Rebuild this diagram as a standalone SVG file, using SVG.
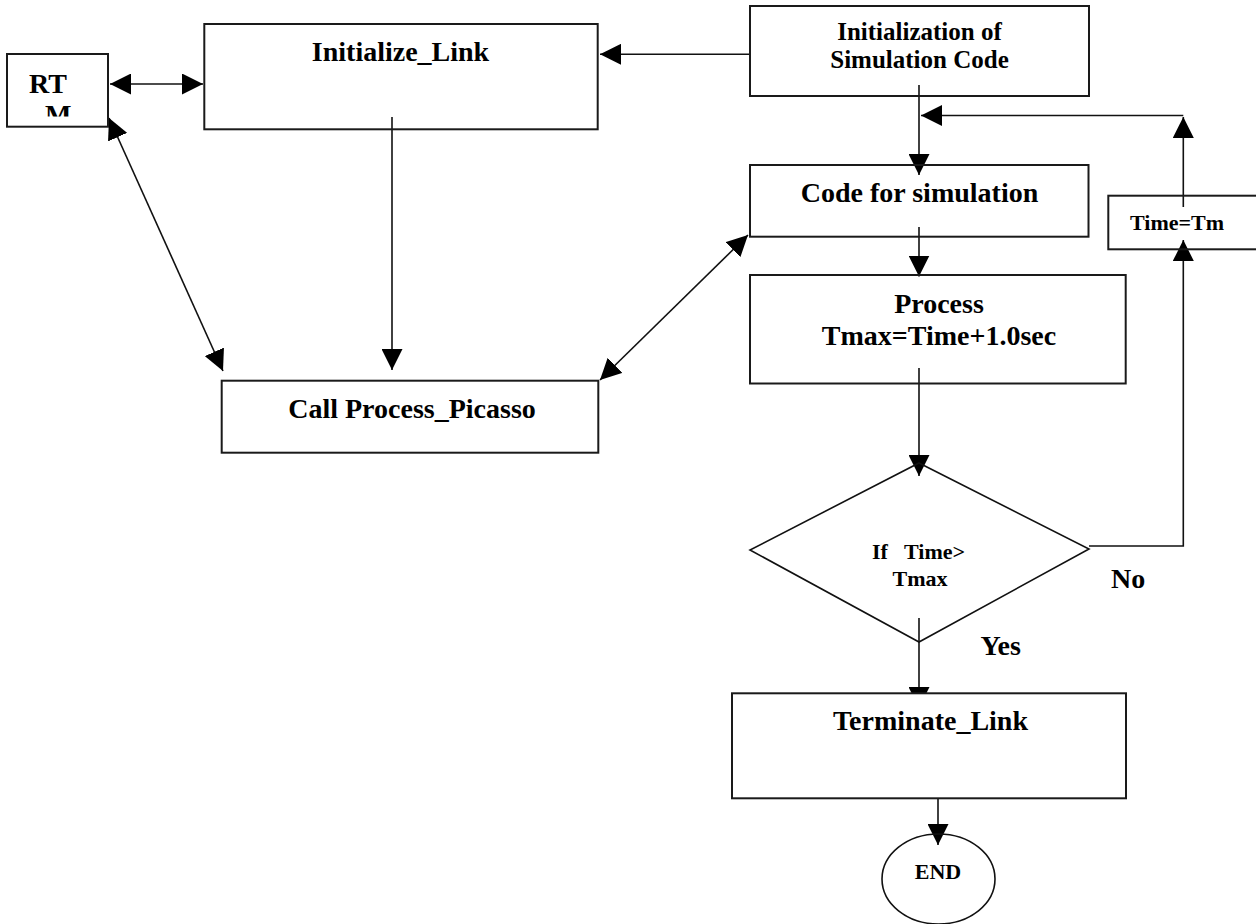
<svg xmlns="http://www.w3.org/2000/svg" width="1256" height="924" viewBox="0 0 1256 924">
  <style>
    .box { fill: none; stroke: #1a1a1a; stroke-width: 2; }
    .shape { fill: none; stroke: #111; stroke-width: 1.6; }
    .line { fill: none; stroke: #111; stroke-width: 1.6; }
    .t { font-family: "Liberation Serif", "Times New Roman", serif; font-weight: bold; fill: #000; }
    .big { font-size: 28px; }
    .tight { font-size: 25px; }
    .small { font-size: 22px; }
    .mid { text-anchor: middle; }
  </style>
  <defs>
    <marker id="ah" viewBox="0 0 21 21" markerWidth="21" markerHeight="21" refX="21" refY="10.5" orient="auto-start-reverse" markerUnits="userSpaceOnUse">
      <path d="M0,0 L21,10.5 L0,21 z" fill="#000"/>
    </marker>
    <clipPath id="rtmClip">
      <rect x="7" y="54" width="101" height="62.5"/>
    </clipPath>
  </defs>

  <rect width="1256" height="924" fill="#fff"/>

  <!-- connectors -->
  <g id="connectors">
    <line class="line" x1="110" y1="84" x2="203" y2="84" marker-start="url(#ah)" marker-end="url(#ah)"/>
    <line class="line" x1="750" y1="54.3" x2="600" y2="54.3" marker-end="url(#ah)"/>
    <line class="line" x1="109" y1="118" x2="223" y2="371" marker-start="url(#ah)" marker-end="url(#ah)"/>
    <line class="line" x1="392" y1="117" x2="392" y2="370" marker-end="url(#ah)"/>
    <line class="line" x1="748" y1="235" x2="600" y2="380" marker-start="url(#ah)" marker-end="url(#ah)"/>
    <line class="line" x1="919" y1="85" x2="919" y2="175" marker-end="url(#ah)"/>
    <line class="line" x1="1183.3" y1="115.5" x2="921" y2="115.5" marker-end="url(#ah)"/>
    <line class="line" x1="1183.3" y1="207" x2="1183.3" y2="117" marker-end="url(#ah)"/>
    <line class="line" x1="919" y1="227" x2="919" y2="276.5" marker-end="url(#ah)"/>
    <line class="line" x1="919" y1="368" x2="919" y2="476" marker-end="url(#ah)"/>
    <polyline class="line" points="1089,546 1183.3,546 1183.3,240" marker-end="url(#ah)"/>
    <line class="line" x1="919" y1="618" x2="919" y2="708" marker-end="url(#ah)"/>
    <line class="line" x1="938" y1="790" x2="938" y2="845" marker-end="url(#ah)"/>
  </g>

  <!-- RTM -->
  <g id="rtm">
    <rect class="box" x="7" y="54" width="101" height="72.7"/>
    <g clip-path="url(#rtmClip)">
      <text class="t big" x="29" y="93">RT</text>
      <text class="t big" x="45" y="123.5">M</text>
    </g>
  </g>

  <!-- Initialize_Link -->
  <g id="initialize-link">
    <rect class="box" x="204.3" y="24" width="393.4" height="105.3"/>
    <text class="t big mid" x="400.5" y="61">Initialize_Link</text>
  </g>

  <!-- Initialization of Simulation Code -->
  <g id="init-sim-code">
    <rect class="box" x="750" y="6" width="339" height="90"/>
    <text class="t tight mid" x="919.5" y="40">Initialization of</text>
    <text class="t tight mid" x="919.5" y="68">Simulation Code</text>
  </g>

  <!-- Code for simulation -->
  <g id="code-for-simulation">
    <rect class="box" x="750" y="165" width="338.5" height="71.7"/>
    <text class="t big mid" x="919.5" y="201.7">Code for simulation</text>
  </g>

  <!-- Time=Tm -->
  <g id="time-tm">
    <rect class="box" x="1108.3" y="195.7" width="160" height="53.6"/>
    <text class="t small" x="1130" y="230">Time=Tm</text>
  </g>

  <!-- Process -->
  <g id="process">
    <rect class="box" x="750" y="275" width="375.7" height="108.5"/>
    <text class="t big mid" x="939" y="313">Process</text>
    <text class="t big mid" x="939" y="345">Tmax=Time+1.0sec</text>
  </g>

  <!-- Call Process_Picasso -->
  <g id="call-process-picasso">
    <rect class="box" x="221.7" y="380.7" width="376.6" height="72"/>
    <text class="t big mid" x="412" y="418">Call Process_Picasso</text>
  </g>

  <!-- Decision -->
  <g id="decision">
    <polygon class="shape" points="919,463 1089,549 919,642 750,550"/>
    <text class="t small" x="872" y="559" xml:space="preserve">If   Time&gt;</text>
    <text class="t small mid" x="920" y="586">Tmax</text>
  </g>

  <!-- branch labels -->
  <g id="label-no">
    <text class="t big" x="1111" y="588">No</text>
  </g>
  <g id="label-yes">
    <text class="t big" x="980.5" y="655">Yes</text>
  </g>

  <!-- Terminate_Link -->
  <g id="terminate-link">
    <rect class="box" x="732" y="693.3" width="394" height="105" style="fill:#fff"/>
    <text class="t big mid" x="930.5" y="730">Terminate_Link</text>
  </g>

  <!-- END -->
  <g id="end">
    <ellipse class="shape" cx="938.5" cy="879" rx="56.5" ry="45"/>
    <text class="t small mid" x="938" y="879">END</text>
  </g>
</svg>
